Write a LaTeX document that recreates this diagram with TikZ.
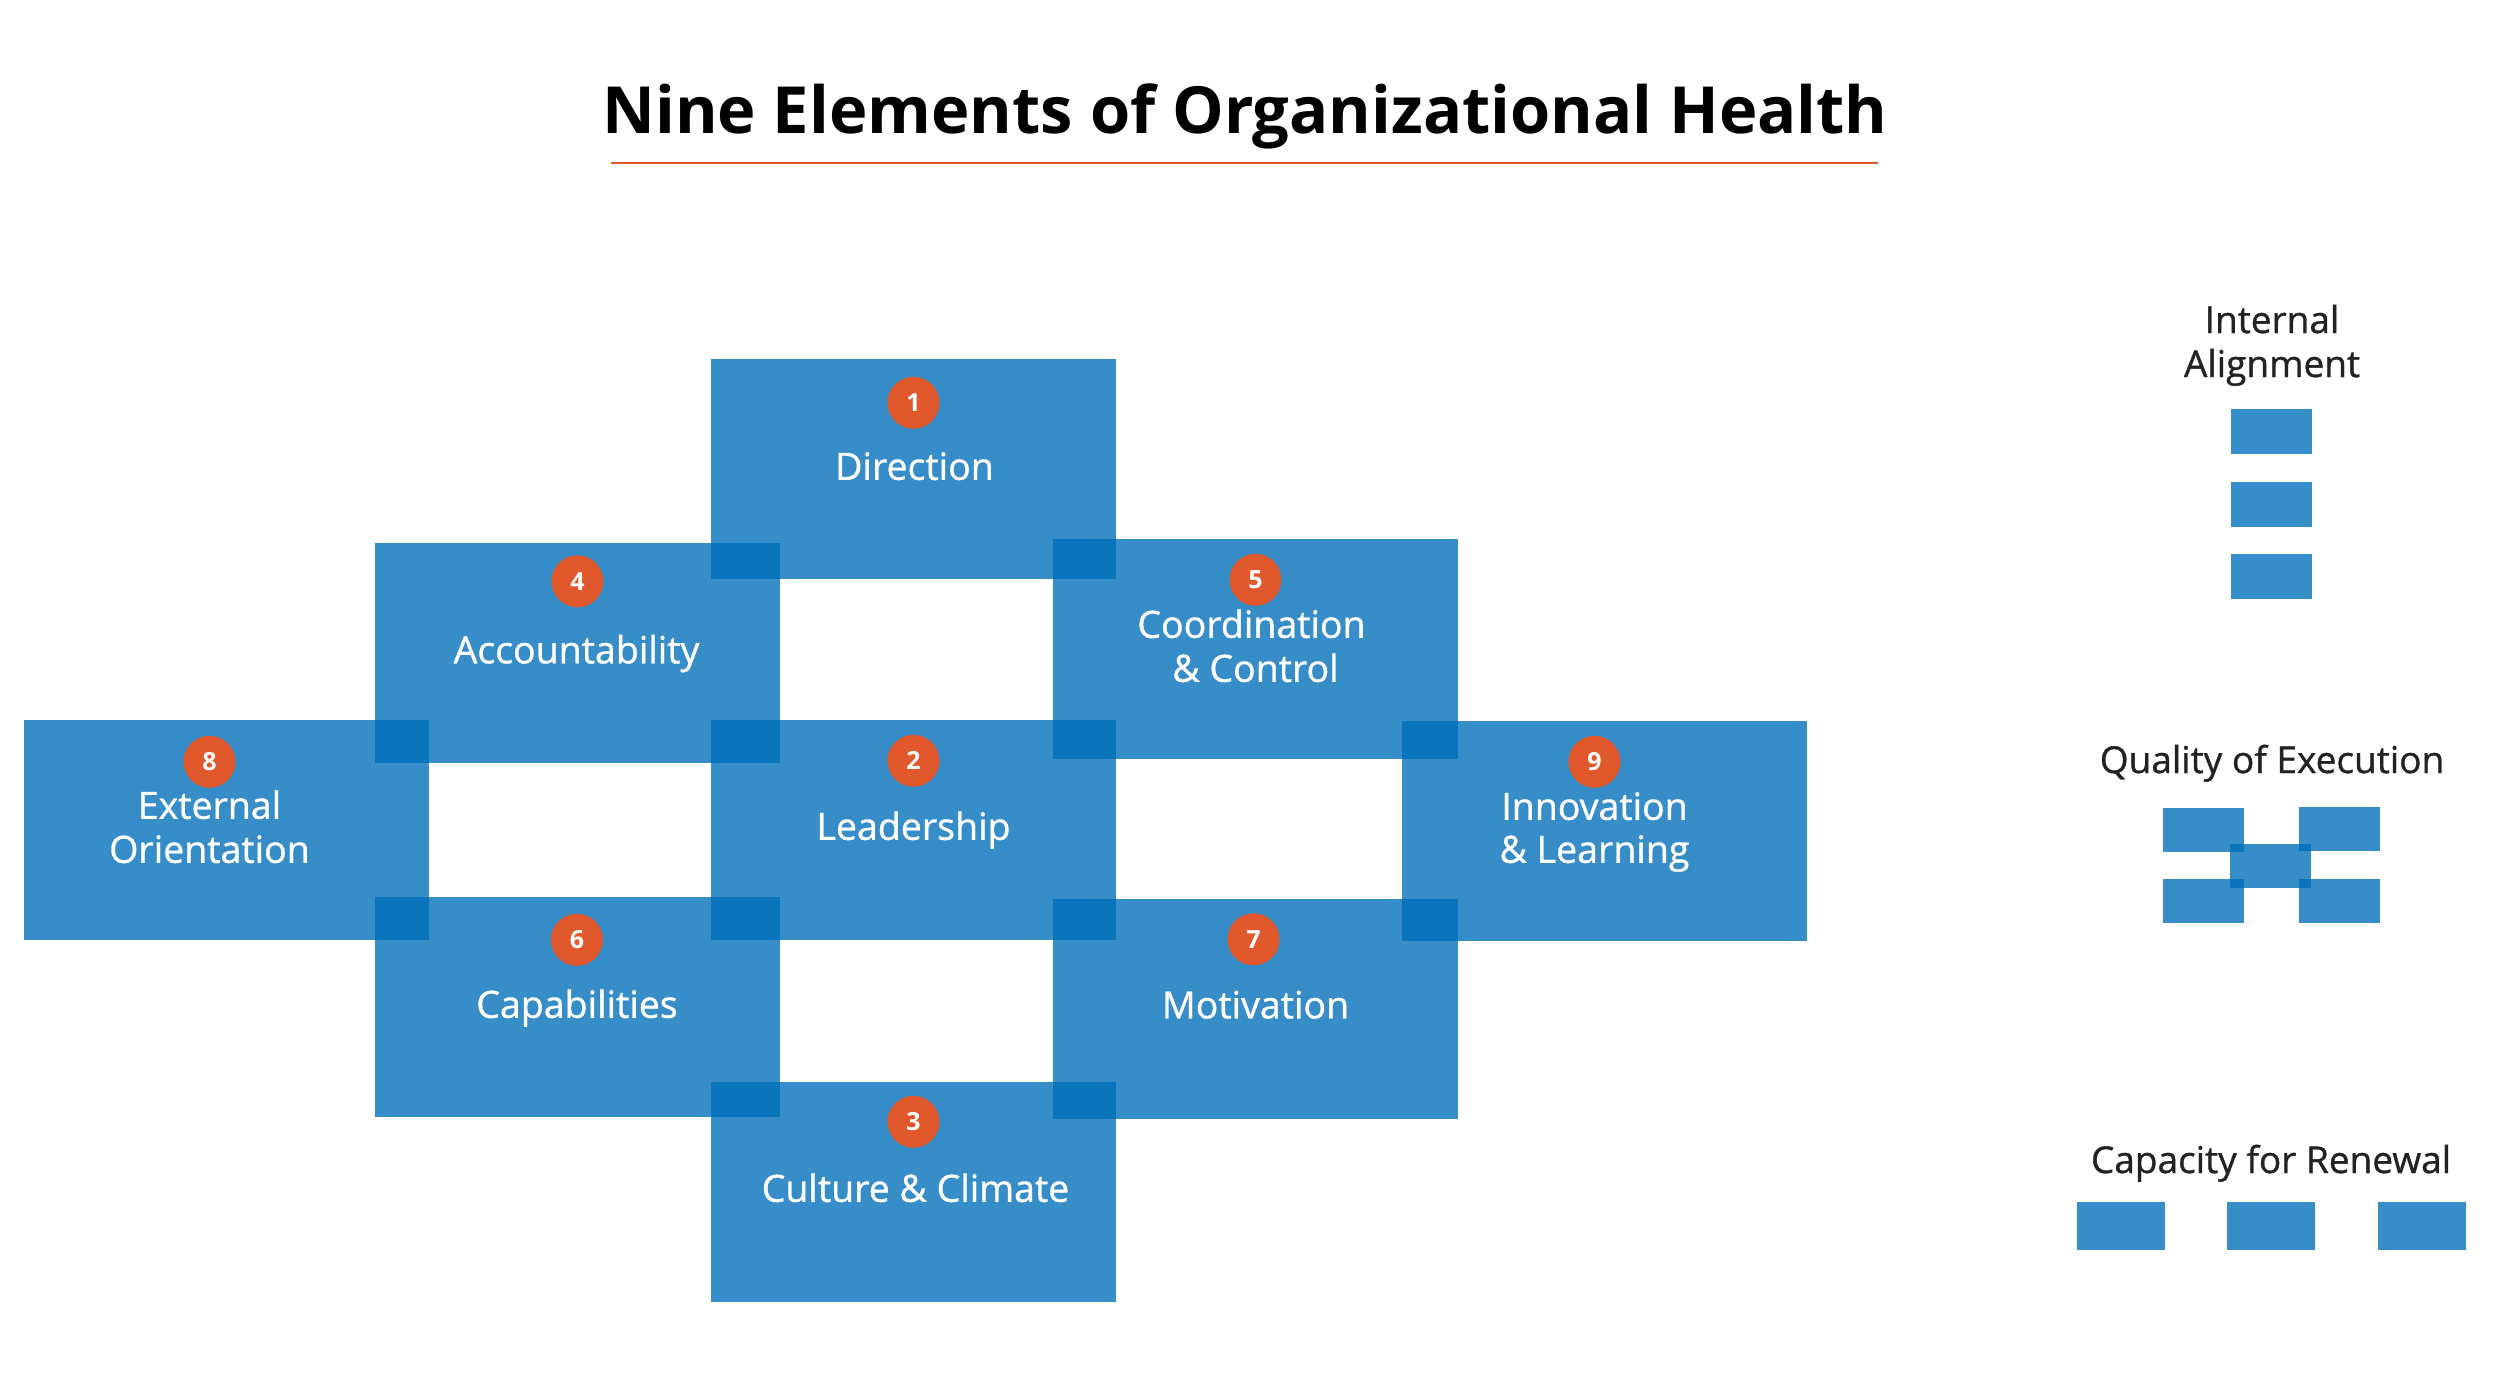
\documentclass[tikz,border=0pt]{standalone}
\usepackage{fontspec}
\setmainfont{Open Sans}
\newfontfamily\labelfont[FakeBold=0.9]{Open Sans}
\usetikzlibrary{calc}
\definecolor{boxblue}{RGB}{0,111,185}
\definecolor{numorange}{RGB}{224,88,43}
\definecolor{legendtext}{RGB}{34,34,34}
\begin{document}
\begin{tikzpicture}[x=1pt,y=-1pt,
  element/.style={fill=boxblue, fill opacity=0.79, draw=none, inner sep=0pt,
    minimum width=405pt, minimum height=220pt},
  numdot/.style={circle, fill=numorange, draw=none, inner sep=0pt, minimum size=52pt,
    text=white, font=\bfseries\fontsize{25}{25}\selectfont},
  label/.style={anchor=base, text=white, inner sep=0pt, font=\labelfont\fontsize{37.5}{44}\selectfont},
  legtitle/.style={anchor=base, text=legendtext, inner sep=0pt, font=\labelfont\fontsize{37}{42}\selectfont},
  legbox/.style={fill=boxblue, fill opacity=0.79, draw=none, inner sep=0pt,
    minimum width=81pt, minimum height=44pt},
  legboxwide/.style={fill=boxblue, fill opacity=0.79, draw=none, inner sep=0pt,
    minimum width=88pt, minimum height=48pt}
]
\useasboundingbox (0,0) rectangle (2500,1387);

% title
\node[anchor=base, inner sep=0pt, font=\bfseries\fontsize{65}{78}\selectfont] (title) at (1245,133) {Nine Elements of Organizational Health};
\coordinate (ul1) at (611,163);
\coordinate (ul2) at (1878,163);
\draw[numorange, line width=2pt] (ul1) -- (ul2);

% element boxes
\node[element] (b1) at (913.5,469) {};
\node[element] (b4) at (577.5,652.5) {};
\node[element] (b5) at (1255.5,649) {};
\node[element] (b8) at (226.5,830) {};
\node[element] (b2) at (913.5,830) {};
\node[element] (b9) at (1604.5,831) {};
\node[element] (b6) at (577,1007) {};
\node[element] (b7) at (1255.5,1008.5) {};
\node[element] (b3) at (913.5,1192) {};

% numbers and labels
\node[numdot] (n1) at ($(b1.north)+(0,44)$) {1};
\node[label] (t1) at ($(b1.north)+(1,121)$) {Direction};

\node[numdot] (n2) at ($(b2.north)+(0,41)$) {2};
\node[label] (t2) at ($(b2.north)+(0,120)$) {Leadership};

\node[numdot] (n3) at ($(b3.north)+(0,40)$) {3};
\node[label] (t3) at ($(b3.north)+(2,120)$) {Culture \& Climate};

\node[numdot] (n4) at ($(b4.north)+(0,39)$) {4};
\node[label] (t4) at ($(b4.north)+(-1,121)$) {Accountability};

\node[numdot] (n5) at ($(b5.north)+(0,41)$) {5};
\node[label] (t5a) at ($(b5.north)+(-4,99)$) {Coordination};
\node[label] (t5b) at ($(b5.north)+(0,143)$) {\& Control};

\node[numdot] (n6) at ($(b6.north)+(0,43)$) {6};
\node[label] (t6) at ($(b6.north)+(0,121)$) {Capabilities};

\node[numdot] (n7) at ($(b7.north)+(-2,41)$) {7};
\node[label] (t7) at ($(b7.north)+(0,120)$) {Motivation};

\node[numdot] (n8) at ($(b8.north)+(-17,42)$) {8};
\node[label] (t8a) at ($(b8.north)+(-17,99)$) {External};
\node[label] (t8b) at ($(b8.north)+(-17,143)$) {Orientation};

\node[numdot] (n9) at ($(b9.north)+(-10,41)$) {9};
\node[label] (t9a) at ($(b9.north)+(-10,99)$) {Innovation};
\node[label] (t9b) at ($(b9.north)+(-10,142)$) {\& Learning};

% legend: internal alignment
\node[legtitle] (lia1) at (2272,333) {Internal};
\node[legtitle] (lia2) at (2272,377) {Alignment};
\node[legbox, minimum height=45pt] (ia1) at (2271.5,431.5) {};
\node[legbox, minimum height=45pt] (ia2) at (2271.5,504) {};
\node[legbox, minimum height=45pt] (ia3) at (2271.5,576.5) {};

% legend: quality of execution
\node[legtitle] (lqe) at (2272,773) {Quality of Execution};
\node[legbox] (qe1) at (2203.5,830) {};
\node[legbox] (qe2) at (2339,829) {};
\node[legbox] (qe3) at (2270.5,865.5) {};
\node[legbox] (qe4) at (2203.5,901) {};
\node[legbox] (qe5) at (2339,901) {};

% legend: capacity for renewal
\node[legtitle] (lcr) at (2271,1173) {Capacity for Renewal};
\node[legboxwide] (cr1) at (2121,1226) {};
\node[legboxwide] (cr2) at (2271,1226) {};
\node[legboxwide] (cr3) at (2422,1226) {};
\end{tikzpicture}
\end{document}
